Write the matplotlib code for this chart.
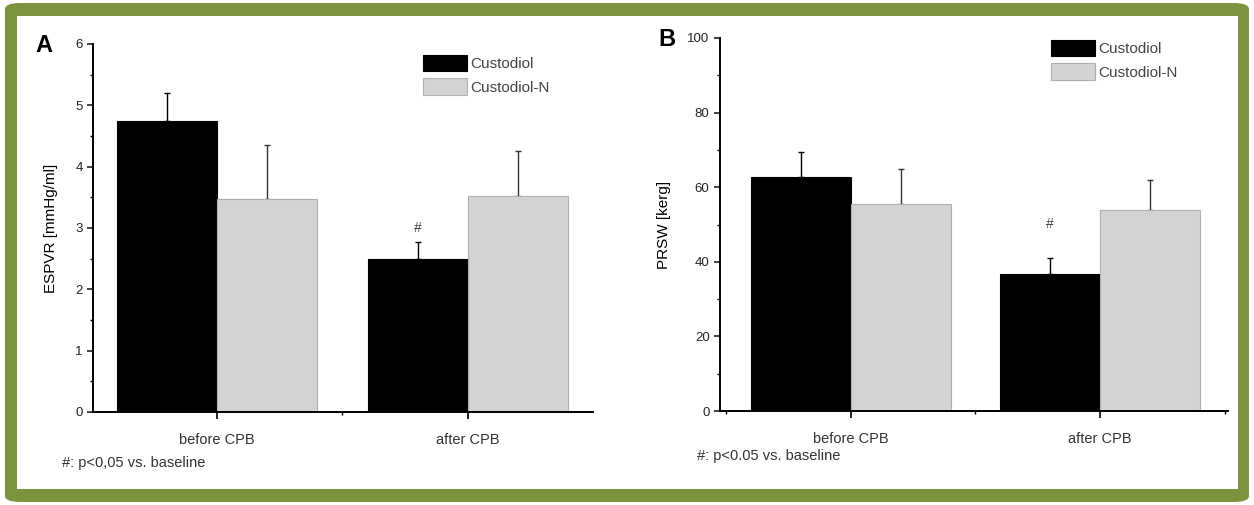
import matplotlib.pyplot as plt
from matplotlib.patches import FancyBboxPatch, Rectangle
from matplotlib.ticker import MultipleLocator

plt.rcParams['font.family'] = ['Liberation Sans', 'DejaVu Sans']

groups = ['before CPB', 'after CPB']
series = ['Custodiol', 'Custodiol-N']

espvr_cust = [4.75, 2.5]
espvr_cust_err = [0.45, 0.27]
espvr_custn = [3.47, 3.52]
espvr_custn_err = [0.88, 0.73]

prsw_cust = [62.7, 36.6]
prsw_cust_err = [6.8, 4.3]
prsw_custn = [55.5, 53.9]
prsw_custn_err = [9.4, 7.9]

W, H = 1254, 505
fig = plt.figure(figsize=(W / 100, H / 100), dpi=100)

# green frame
fig.patches.append(FancyBboxPatch((0.004, 0.006), 0.992, 0.988,
                                  boxstyle='round,pad=0,rounding_size=0.012',
                                  transform=fig.transFigure, fc='#7b943d',
                                  ec='none', zorder=-2))
fig.patches.append(Rectangle((17 / W, 1 - 489 / H), (1238 - 17) / W, (489 - 16) / H,
                             transform=fig.transFigure, fc='white', ec='none', zorder=-1))


def panel(rect, v1, e1, v2, e2, ylim, major, minor, ylabel, xlim, leg_anchor):
    ax = fig.add_axes(rect, zorder=2)
    ax.patch.set_alpha(0)
    x = [0, 1]
    w = 0.4
    ax.bar([i - w / 2 for i in x], v1, w, color='black', edgecolor='black', lw=0.8,
           label=series[0], zorder=2)
    ax.bar([i + w / 2 for i in x], v2, w, color='#d3d3d3', edgecolor='#b0b0b0', lw=0.8,
           label=series[1], zorder=2)
    ax.errorbar([i - w / 2 for i in x], v1, yerr=[[0, 0], e1], fmt='none',
                ecolor='black', elinewidth=1, capsize=2.5, capthick=1, zorder=3)
    ax.errorbar([i + w / 2 for i in x], v2, yerr=[[0, 0], e2], fmt='none',
                ecolor='#333333', elinewidth=1, capsize=2.5, capthick=1, zorder=1)
    ax.set_ylim(*ylim)
    ax.set_xlim(*xlim)
    ax.set_xticks(x)
    ax.set_xticklabels(groups, fontsize=10.5, color='#333333')
    ax.xaxis.set_minor_locator(MultipleLocator(0.5))
    ax.yaxis.set_major_locator(MultipleLocator(major))
    ax.yaxis.set_minor_locator(MultipleLocator(minor))
    ax.tick_params(axis='y', labelsize=9.5, length=4, width=1.2, colors='#222222')
    ax.tick_params(axis='x', length=5, width=1.2, pad=10)
    ax.tick_params(which='minor', length=2.5, width=1)
    ax.set_ylabel(ylabel, fontsize=11, labelpad=12)
    for s in ['top', 'right']:
        ax.spines[s].set_visible(False)
    for s in ['left', 'bottom']:
        ax.spines[s].set_linewidth(1.4)
    ax.legend(loc='upper left', bbox_to_anchor=leg_anchor, frameon=False, fontsize=11,
              handlelength=2.9, handleheight=1.3, borderpad=0, labelspacing=0.45,
              handletextpad=0.2, labelcolor='#444444')
    return ax


axA = panel([93 / W, 1 - 412 / H, 500 / W, 368 / H],
            espvr_cust, espvr_cust_err, espvr_custn, espvr_custn_err,
            (0, 6), 1, 0.5, 'ESPVR [mmHg/ml]', (-0.494, 1.498), (0.644, 0.992))
axA.text(0.8, 3.0, '#', ha='center', va='center', fontsize=10, color='#444444')

axB = panel([720 / W, 1 - 411 / H, 508 / W, 373 / H],
            prsw_cust, prsw_cust_err, prsw_custn, prsw_custn_err,
            (0, 100), 20, 10, 'PRSW [kerg]', (-0.526, 1.514), (0.636, 1.016))
axB.text(0.8, 50, '#', ha='center', va='center', fontsize=10, color='#444444')

fig.text(35 / W, 1 - 45 / H, 'A', fontsize=17, fontweight='bold', ha='left', va='center')
fig.text(658 / W, 1 - 40 / H, 'B', fontsize=17, fontweight='bold', ha='left', va='center')
fig.text(62 / W, 1 - 463 / H, '#: p<0,05 vs. baseline', fontsize=10.5, color='#333333',
         ha='left', va='center')
fig.text(697 / W, 1 - 456 / H, '#: p<0.05 vs. baseline', fontsize=10.5, color='#333333',
         ha='left', va='center')

fig.savefig('out.png', dpi=100)
